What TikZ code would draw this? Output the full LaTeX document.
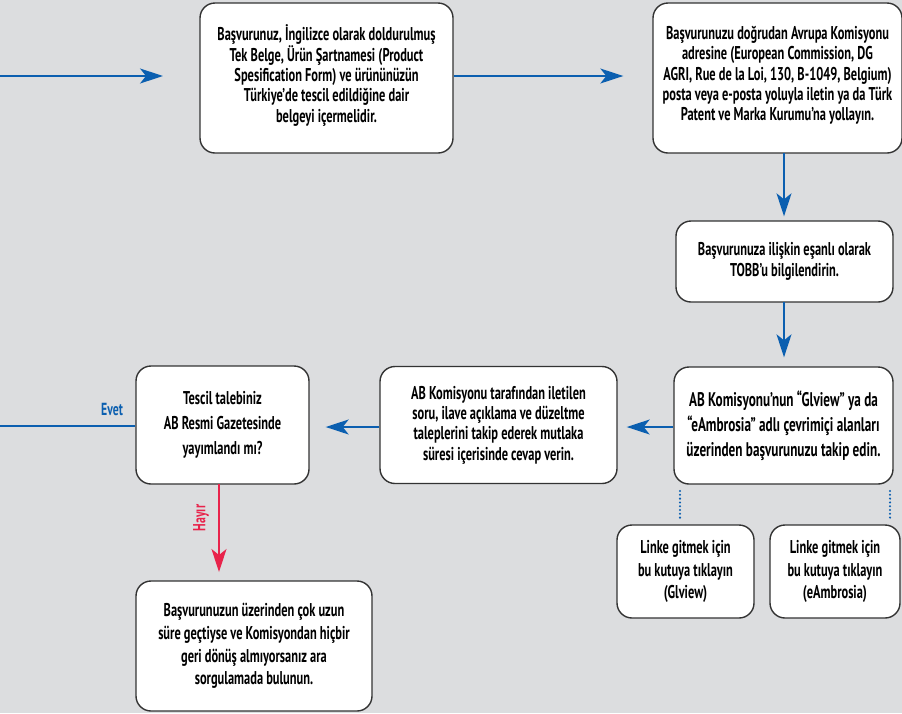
\documentclass[tikz,border=0pt]{standalone}
\usepackage{fontspec}
\setmainfont{PT Sans}[FakeStretch=0.67]
\usetikzlibrary{arrows.meta}
\definecolor{bg}{HTML}{DCDDDF}
\definecolor{fblue}{HTML}{0B5FB0}
\definecolor{fred}{HTML}{E8234B}
\definecolor{fline}{HTML}{333333}
\newcommand\boxfont[2]{\bfseries\fontsize{#1}{#2}\selectfont}
\tikzset{
  box/.style={draw=fline, line width=1.4pt, fill=white, rounded corners=15pt,
    align=center, inner sep=0pt, font=\boxfont{18.5}{20}},
  flow/.style={draw=fblue, line width=1.3pt, -{Stealth[length=23pt,width=15pt,inset=6pt]}},
  noflow/.style={draw=fblue, line width=1.3pt},
  redflow/.style={draw=fred, line width=1.3pt, -{Stealth[length=23pt,width=15pt,inset=6pt]}},
  dots/.style={draw=fblue, line width=2.3pt, line cap=round, dash pattern=on 0pt off 3.8pt},
  lbl/.style={font=\bfseries\fontsize{17.5}{18}\selectfont, inner sep=0pt},
}
\begin{document}
\begin{tikzpicture}[x=1pt,y=-1pt]
\fill[bg] (0,0) rectangle (902,713);
\useasboundingbox (0,0) rectangle (902,713);

\node[box, font=\boxfont{18.5}{20.3}, minimum width=253pt, minimum height=150pt] (b1) at (326.5,78)
  {Başvurunuz, İngilizce olarak doldurulmuş\\Tek Belge, Ürün Şartnamesi (Product\\Spesification Form) ve ürününüzün\\Türkiye’de tescil edildiğine dair\\belgeyi içermelidir.\rule[-9pt]{0pt}{0pt}};
\node[box, font=\boxfont{18.5}{20.3}, minimum width=249pt, minimum height=150pt] (b2) at (777.5,78)
  {Başvurunuzu doğrudan Avrupa Komisyonu\\adresine (European Commission, DG\\AGRI, Rue de la Loi, 130, B-1049, Belgium)\\posta veya e-posta yoluyla iletin ya da Türk\\Patent ve Marka Kurumu’na yollayın.\rule[-9pt]{0pt}{0pt}};
\node[box, font=\boxfont{18.5}{21.7}, minimum width=217pt, minimum height=81pt] (b3) at (784.5,261.5)
  {Başvurunuza ilişkin eşanlı olarak\\TOBB’u bilgilendirin.};
\node[box, font=\boxfont{19.7}{25}, minimum width=219pt, minimum height=117pt] (b4) at (783.5,425.5)
  {AB Komisyonu’nun “Glview” ya da\\“eAmbrosia” adlı çevrimiçi alanları\\üzerinden başvurunuzu takip edin.};
\node[box, font=\boxfont{18.5}{20.3}, minimum width=237pt, minimum height=117pt] (b5) at (498.5,425)
  {AB Komisyonu tarafından iletilen\\soru, ilave açıklama ve düzeltme\\taleplerini takip ederek mutlaka\\süresi içerisinde cevap verin.};
\node[box, font=\boxfont{18.5}{24.7}, minimum width=173pt, minimum height=118pt] (b6) at (222.5,425)
  {Tescil talebiniz\\AB Resmi Gazetesinde\\yayımlandı mı?};
\node[box, font=\boxfont{18.5}{22.8}, minimum width=236pt, minimum height=130pt] (b7) at (254,646)
  {Başvurunuzun üzerinden çok uzun\\süre geçtiyse ve Komisyondan hiçbir\\geri dönüş almıyorsanız ara\\sorgulamada bulunun.};
\node[box, font=\boxfont{18.5}{22.5}, minimum width=137pt, minimum height=93pt] (b8) at (685.5,571.5)
  {Linke gitmek için\\bu kutuya tıklayın\\(Glview)};
\node[box, font=\boxfont{18.5}{22.5}, minimum width=130pt, minimum height=93pt] (b9) at (835,571.5)
  {Linke gitmek için\\bu kutuya tıklayın\\(eAmbrosia)};

\coordinate (inS) at (0,76);
\coordinate (inE) at (163,76);
\coordinate (evetE) at (0,426);
\draw[flow] (inS) -- (inE);
\draw[flow, shorten >=29pt] (b1.east |- inS) -- (b2.west |- inS);
\draw[flow, shorten >=4pt] (784,153) coordinate (a1) -- (a1 |- b3.north);
\draw[flow, shorten >=9pt] (784,302) coordinate (a2) -- (a2 |- b4.north);
\draw[flow, shorten >=9pt] (b4.west |- 0,427) coordinate (a3) -- (a3 -| b5.east);
\draw[flow, shorten >=16pt] (b5.west |- 0,427) coordinate (a4) -- (a4 -| b6.east);
\draw[noflow] (b6.west |- evetE) -- (evetE);
\node[lbl, text=fblue] (evet) at (112,409) {Evet};
\draw[redflow] (219,484) coordinate (r1) -- (219,572) coordinate (r2);
\node[lbl, text=fred, rotate=90] (hayir) at (201,518) {Hayır};
\draw[dots] (680,491) coordinate (d1) -- (680,518) coordinate (d2);
\draw[dots] (890,491) coordinate (d3) -- (890,518) coordinate (d4);
\end{tikzpicture}
\end{document}
